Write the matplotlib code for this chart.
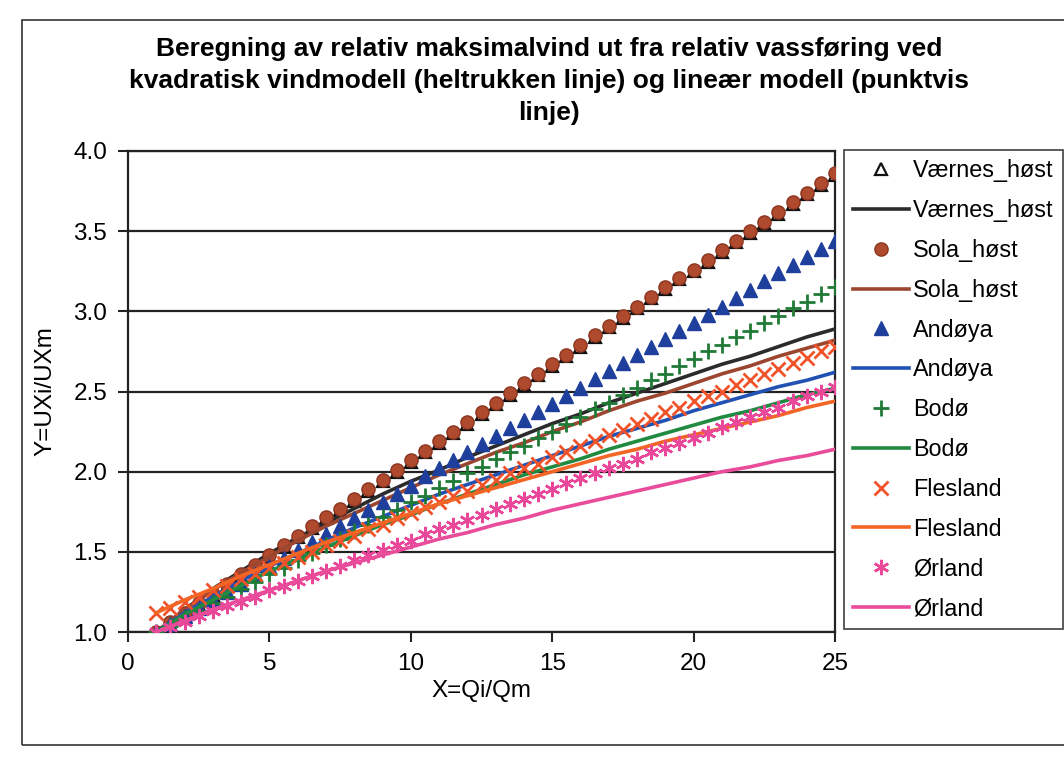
import matplotlib.pyplot as plt
import matplotlib.patches as mpatches

plt.rcParams['font.family'] = ['Liberation Sans', 'DejaVu Sans']

# marker series (linear model), x = 1.0 .. 25.0 step 0.5
x_pts = [1.0, 1.5, 2.0, 2.5, 3.0, 3.5, 4.0, 4.5, 5.0, 5.5, 6.0, 6.5, 7.0, 7.5, 8.0, 8.5,
         9.0, 9.5, 10.0, 10.5, 11.0, 11.5, 12.0, 12.5, 13.0, 13.5, 14.0, 14.5, 15.0, 15.5,
         16.0, 16.5, 17.0, 17.5, 18.0, 18.5, 19.0, 19.5, 20.0, 20.5, 21.0, 21.5, 22.0, 22.5,
         23.0, 23.5, 24.0, 24.5, 25.0]

vaernes_pts = [0.99, 1.05, 1.11, 1.17, 1.23, 1.29, 1.35, 1.41, 1.47, 1.53, 1.59, 1.65, 1.71, 1.76,
               1.82, 1.88, 1.94, 2.00, 2.06, 2.12, 2.18, 2.24, 2.30, 2.36, 2.42, 2.48, 2.54, 2.60,
               2.66, 2.72, 2.78, 2.84, 2.90, 2.96, 3.02, 3.08, 3.14, 3.20, 3.25, 3.31, 3.37, 3.43,
               3.49, 3.55, 3.61, 3.67, 3.73, 3.79, 3.85]
sola_pts = [1.00, 1.06, 1.12, 1.18, 1.24, 1.30, 1.36, 1.42, 1.48, 1.54, 1.60, 1.66, 1.72, 1.77,
            1.83, 1.89, 1.95, 2.01, 2.07, 2.13, 2.19, 2.25, 2.31, 2.37, 2.43, 2.49, 2.55, 2.61,
            2.67, 2.73, 2.79, 2.85, 2.91, 2.97, 3.03, 3.09, 3.15, 3.21, 3.26, 3.32, 3.38, 3.44,
            3.50, 3.56, 3.62, 3.68, 3.74, 3.80, 3.86]
andoya_pts = [1.00, 1.05, 1.10, 1.15, 1.20, 1.25, 1.30, 1.36, 1.41, 1.46, 1.51, 1.56, 1.61, 1.66,
              1.71, 1.76, 1.81, 1.86, 1.91, 1.97, 2.02, 2.07, 2.12, 2.17, 2.22, 2.27, 2.32, 2.37,
              2.42, 2.47, 2.52, 2.58, 2.63, 2.68, 2.73, 2.78, 2.83, 2.88, 2.93, 2.98, 3.03, 3.08,
              3.13, 3.19, 3.24, 3.29, 3.34, 3.39, 3.44]
bodo_pts = [1.00, 1.04, 1.09, 1.13, 1.18, 1.22, 1.27, 1.31, 1.36, 1.40, 1.45, 1.49, 1.54, 1.58,
            1.63, 1.67, 1.72, 1.76, 1.81, 1.85, 1.90, 1.94, 1.99, 2.03, 2.08, 2.12, 2.16, 2.21,
            2.25, 2.30, 2.34, 2.39, 2.43, 2.48, 2.52, 2.57, 2.61, 2.66, 2.70, 2.75, 2.79, 2.84,
            2.88, 2.93, 2.97, 3.02, 3.06, 3.11, 3.15]
flesland_pts = [1.12, 1.15, 1.19, 1.22, 1.26, 1.29, 1.33, 1.36, 1.40, 1.43, 1.47, 1.50, 1.54, 1.57,
                1.60, 1.64, 1.67, 1.71, 1.74, 1.78, 1.81, 1.85, 1.88, 1.92, 1.95, 1.99, 2.02, 2.05,
                2.09, 2.12, 2.16, 2.19, 2.23, 2.26, 2.30, 2.33, 2.37, 2.40, 2.44, 2.47, 2.50, 2.54,
                2.57, 2.61, 2.64, 2.68, 2.71, 2.75, 2.78]
orland_pts = [1.00, 1.03, 1.06, 1.10, 1.13, 1.16, 1.19, 1.22, 1.26, 1.29, 1.32, 1.35, 1.38, 1.41,
              1.45, 1.48, 1.51, 1.54, 1.57, 1.61, 1.64, 1.67, 1.70, 1.73, 1.77, 1.80, 1.83, 1.86,
              1.89, 1.93, 1.96, 1.99, 2.02, 2.05, 2.08, 2.12, 2.15, 2.18, 2.21, 2.24, 2.28, 2.31,
              2.34, 2.37, 2.40, 2.44, 2.47, 2.50, 2.53]

# line series (quadratic model), x = 1 .. 25
x_line = list(range(1, 26))
vaernes_line = [1.00, 1.14, 1.27, 1.38, 1.49, 1.59, 1.68, 1.77, 1.86, 1.94, 2.01, 2.09, 2.16,
                2.23, 2.30, 2.36, 2.43, 2.49, 2.55, 2.61, 2.67, 2.72, 2.78, 2.84, 2.89]
sola_line = [1.00, 1.14, 1.26, 1.37, 1.47, 1.57, 1.66, 1.74, 1.82, 1.90, 1.98, 2.05, 2.12,
             2.18, 2.25, 2.31, 2.38, 2.44, 2.49, 2.55, 2.61, 2.66, 2.72, 2.77, 2.82]
andoya_line = [1.00, 1.12, 1.22, 1.32, 1.41, 1.49, 1.57, 1.65, 1.72, 1.79, 1.86, 1.92, 1.98,
               2.04, 2.10, 2.16, 2.22, 2.27, 2.32, 2.38, 2.43, 2.48, 2.53, 2.57, 2.62]
bodo_line = [1.00, 1.11, 1.20, 1.29, 1.38, 1.45, 1.53, 1.60, 1.67, 1.73, 1.80, 1.86, 1.92,
             1.98, 2.03, 2.08, 2.14, 2.19, 2.24, 2.29, 2.34, 2.38, 2.43, 2.48, 2.52]
flesland_line = [1.12, 1.20, 1.27, 1.35, 1.42, 1.49, 1.56, 1.62, 1.68, 1.74, 1.80, 1.85, 1.90,
                 1.95, 2.00, 2.05, 2.10, 2.14, 2.19, 2.23, 2.27, 2.31, 2.35, 2.40, 2.44]
orland_line = [1.00, 1.07, 1.14, 1.20, 1.26, 1.32, 1.38, 1.43, 1.48, 1.53, 1.58, 1.62, 1.67,
               1.71, 1.76, 1.80, 1.84, 1.88, 1.92, 1.96, 2.00, 2.03, 2.07, 2.10, 2.14]

fig = plt.figure(figsize=(10.64, 7.66), dpi=100, facecolor='white')
ax = fig.add_axes([0.1203, 0.1749, 0.6645, 0.628])

# outer chart frame (right side runs off the picture)
fig.patches.append(mpatches.Rectangle((22 / 1064, 1 - 745 / 766), 1.2, (745 - 20) / 766,
                                      transform=fig.transFigure, fill=False,
                                      edgecolor='#333333', linewidth=1.2))

series = [
    ('Værnes_høst', x_pts, vaernes_pts, dict(marker='^', markersize=9, markerfacecolor='white',
                                             markeredgecolor='#111111', markeredgewidth=1.6)),
    ('Værnes_høst', x_line, vaernes_line, dict(color='#2b2b2b')),
    ('Sola_høst', x_pts, sola_pts, dict(marker='o', markersize=9.5, markerfacecolor='#b04a2e',
                                        markeredgecolor='#8a3520', markeredgewidth=1)),
    ('Sola_høst', x_line, sola_line, dict(color='#9c4630')),
    ('Andøya', x_pts, andoya_pts, dict(marker='^', markersize=10.5, markerfacecolor='#1f3f9c',
                                       markeredgecolor='#1f3f9c')),
    ('Andøya', x_line, andoya_line, dict(color='#2152b3')),
    ('Bodø', x_pts, bodo_pts, dict(marker='+', markersize=11, markeredgewidth=2,
                                   color='#1e7a35')),
    ('Bodø', x_line, bodo_line, dict(color='#1f8a40')),
    ('Flesland', x_pts, flesland_pts, dict(marker='x', markersize=10, markeredgewidth=2,
                                           color='#f0522a')),
    ('Flesland', x_line, flesland_line, dict(color='#f26524')),
    ('Ørland', x_pts, orland_pts, dict(marker=(6, 2, 0), markersize=11, markeredgewidth=1.8,
                                       color='#e8479a')),
    ('Ørland', x_line, orland_line, dict(color='#ea4c9c')),
]

handles = []
for label, xs, ys, style in series:
    if 'marker' in style:
        h, = ax.plot(xs, ys, linestyle='none', label=label, zorder=3, **style)
    else:
        h, = ax.plot(xs, ys, linewidth=2.6, label=label, zorder=3, **style)
    handles.append(h)

ax.set_xlim(0, 25)
ax.set_ylim(1.0, 4.0)
ax.set_xticks([0, 5, 10, 15, 20, 25])
ax.set_yticks([1.0, 1.5, 2.0, 2.5, 3.0, 3.5, 4.0])
ax.set_yticklabels(['1.0', '1.5', '2.0', '2.5', '3.0', '3.5', '4.0'])
ax.tick_params(axis='both', labelsize=17.5, length=7, width=1.5, color='#222222',
               direction='out', pad=8)
ax.yaxis.grid(True, color='#222222', linewidth=1.6)
ax.set_axisbelow(True)
for side in ['top', 'right', 'left', 'bottom']:
    ax.spines[side].set_color('#222222')
    ax.spines[side].set_linewidth(1.6)

ax.set_xlabel('X=Qi/Qm', fontsize=17.5, labelpad=4)
ax.set_ylabel('Y=UXi/UXm', fontsize=17.5, labelpad=12)

fig.text(0.516, 1 - 81 / 766,
         'Beregning av relativ maksimalvind ut fra relativ vassføring ved\n'
         'kvadratisk vindmodell (heltrukken linje) og lineær modell (punktvis\n'
         'linje)',
         ha='center', va='center', fontsize=19, fontweight='bold', linespacing=1.42)

leg = fig.legend(handles=handles, loc='upper left',
                 bbox_to_anchor=(844 / 1064, 1 - 150 / 766),
                 fontsize=16.8, frameon=True, fancybox=False, edgecolor='#222222',
                 handlelength=2.4, handletextpad=0.15, labelspacing=0.72,
                 borderpad=0.4, borderaxespad=0)
leg.get_frame().set_linewidth(1.3)

fig.savefig('out.png', dpi=100, facecolor='white')
